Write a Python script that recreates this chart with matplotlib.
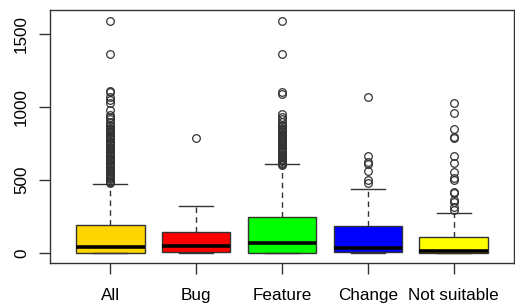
import matplotlib
matplotlib.use("Agg")
import matplotlib.pyplot as plt

categories = ["All", "Bug", "Feature", "Change", "Not suitable"]
colors = ["#FFD700", "#FF0000", "#00FF00", "#0000FF", "#FFFF00"]

q1 = [0, 8, 0, 6, 0]
med = [40, 48, 70, 37, 14]
q3 = [190, 146, 245, 185, 107]
whislo = [0, 2, 0, 0, 0]
whishi = [473, 322, 608, 438, 272]

fliers_all = [1591, 1363, 1112, 1101, 1071, 1048, 1025, 980, 945, 930, 915, 900,
              877, 868, 860, 852, 845, 836, 828, 820, 812, 804, 795, 787, 779, 770,
              762, 754, 745, 737, 729, 720, 712, 704, 695, 687, 679, 670, 662, 654,
              645, 637, 629, 620, 612, 604, 595, 587, 579, 570, 562, 554, 545, 537,
              529, 520, 512, 504, 495, 487, 482]
fliers_bug = [786]
fliers_feature = [1591, 1363, 1105, 1093, 950, 930, 915, 900, 877, 868, 860, 852,
                  843, 835, 826, 818, 809, 800, 792, 783, 775, 766, 758, 749, 740,
                  732, 723, 715, 706, 697, 689, 680, 672, 663, 655, 646, 637, 629,
                  620, 612, 603]
fliers_change = [1071, 664, 621, 612, 562, 500, 477]
fliers_ns = [1025, 957, 847, 797, 786, 664, 614, 557, 512, 500, 420, 410, 363,
             352, 317, 294]
fliers = [fliers_all, fliers_bug, fliers_feature, fliers_change, fliers_ns]

yticks = [0, 500, 1000, 1500]

plt.rcParams['font.family'] = ['Liberation Sans', 'DejaVu Sans']

fig = plt.figure(figsize=(5.15, 3.05), dpi=100)
ax = fig.add_axes([50/515, 1-263/305, 464/515, 253/305])

stats = []
for i, c in enumerate(categories):
    stats.append(dict(label=c, q1=q1[i], med=med[i], q3=q3[i],
                      whislo=whislo[i], whishi=whishi[i], fliers=fliers[i]))

bp = ax.bxp(stats, positions=range(1, 6), widths=0.8, patch_artist=True,
            showfliers=True,
            boxprops=dict(edgecolor="#333333", linewidth=1.0),
            medianprops=dict(color="black", linewidth=2.6, solid_capstyle="butt"),
            whiskerprops=dict(color="#333333", linewidth=1.0, linestyle=(0, (4, 3))),
            capprops=dict(color="#333333", linewidth=1.0),
            capwidths=0.4,
            flierprops=dict(marker="o", markerfacecolor="none",
                            markeredgecolor="#333333", markersize=5.5,
                            markeredgewidth=0.9, linestyle="none"))
for patch, col in zip(bp["boxes"], colors):
    patch.set_facecolor(col)

ax.set_xlim(0.3, 5.7)
ax.set_ylim(-68, 1665)
ax.set_yticks(yticks)
ax.set_yticklabels([str(v) for v in yticks], rotation=90, va="center")
ax.set_xticks(range(1, 6))
ax.set_xticklabels(categories)
ax.tick_params(axis="both", direction="out", length=8, width=1.0,
               color="#333333", labelsize=12.3, labelcolor="black")
ax.tick_params(axis="x", pad=10)
ax.tick_params(axis="y", pad=7)
for s in ax.spines.values():
    s.set_color("#333333")
    s.set_linewidth(1.0)

fig.savefig("out.png", dpi=100)
